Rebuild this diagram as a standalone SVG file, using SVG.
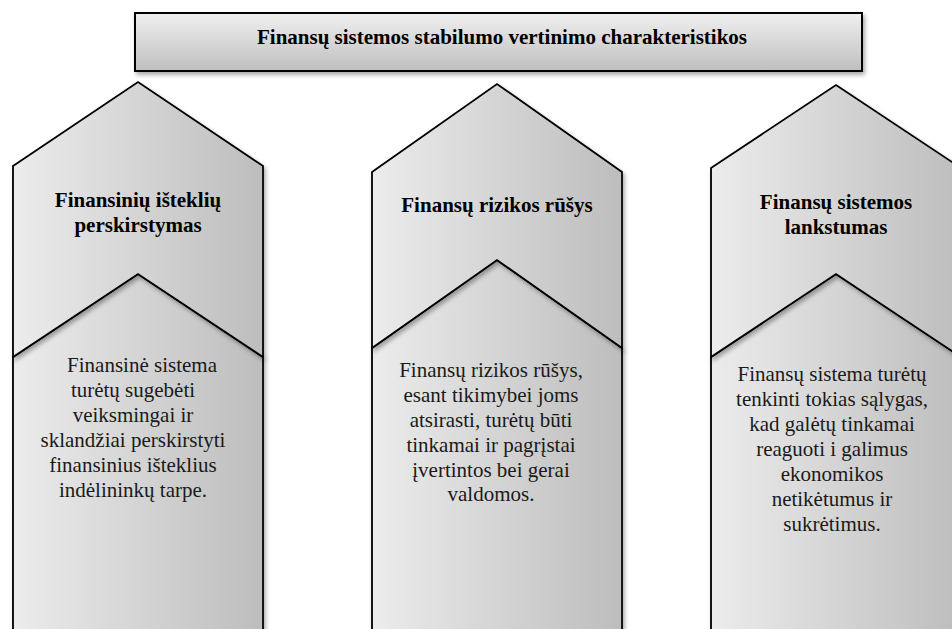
<svg xmlns="http://www.w3.org/2000/svg" width="952" height="629" viewBox="0 0 952 629">
<defs>
<linearGradient id="gH" x1="0" y1="0" x2="1" y2="0"><stop offset="0" stop-color="#ececec"/><stop offset="1" stop-color="#bdbdbd"/></linearGradient>
<linearGradient id="gV" x1="0" y1="0" x2="0" y2="1"><stop offset="0" stop-color="#f0f0f0"/><stop offset="1" stop-color="#bfbfbf"/></linearGradient>
<filter id="sh" x="-10%" y="-10%" width="130%" height="130%"><feDropShadow dx="2" dy="3" stdDeviation="2.2" flood-color="#000" flood-opacity="0.33"/></filter>
</defs>
<style>
.shape{stroke:#000;stroke-width:1.8;stroke-linejoin:miter;fill:url(#gH);filter:url(#sh)}
.box{fill:url(#gV);stroke:#000;stroke-width:2;filter:url(#sh)}
.h{font-family:"Liberation Serif","Times New Roman",serif;font-weight:bold;font-size:21px;fill:#000;text-anchor:middle}
.b{font-family:"Liberation Serif","Times New Roman",serif;font-size:21px;fill:#1a1a1a;text-anchor:middle}
</style>
<g id="title">
<rect class="box" x="135" y="13" width="727" height="58"/>
<text class="h" x="502" y="44">Finansų sistemos stabilumo vertinimo charakteristikos</text>
</g>
<g id="col1-body">
<path class="shape" d="M13,357 L138,274 L263,357 L263,640 L13,640 Z"/>
<text class="b" x="142" y="372">Finansinė sistema</text>
<text class="b" x="133" y="397">turėtų sugebėti</text>
<text class="b" x="133" y="422">veiksmingai ir</text>
<text class="b" x="133" y="447">sklandžiai perskirstyti</text>
<text class="b" x="133" y="472">finansinius išteklius</text>
<text class="b" x="133" y="497">indėlininkų tarpe.</text>
</g>
<g id="col1">
<path class="shape" d="M13,166 L138,82 L263,166 L263,357 L138,274 L13,357 Z"/>
<text class="h" x="138" y="207">Finansinių išteklių</text>
<text class="h" x="138" y="232">perskirstymas</text>
</g>
<g id="col2-body">
<path class="shape" d="M372,348 L497,260 L622,348 L622,640 L372,640 Z"/>
<text class="b" x="491" y="377">Finansų rizikos rūšys,</text>
<text class="b" x="491" y="402">esant tikimybei joms</text>
<text class="b" x="491" y="427">atsirasti, turėtų būti</text>
<text class="b" x="491" y="452">tinkamai ir pagrįstai</text>
<text class="b" x="491" y="477">įvertintos bei gerai</text>
<text class="b" x="491" y="501">valdomos.</text>
</g>
<g id="col2">
<path class="shape" d="M372,172 L497,84 L622,172 L622,348 L497,260 L372,348 Z"/>
<text class="h" x="497" y="212">Finansų rizikos rūšys</text>
</g>
<g id="col3-body">
<path class="shape" d="M711,357 L836,274 L961,357 L961,640 L711,640 Z"/>
<text class="b" x="832" y="381">Finansų sistema turėtų</text>
<text class="b" x="832" y="406">tenkinti tokias sąlygas,</text>
<text class="b" x="832" y="431">kad galėtų tinkamai</text>
<text class="b" x="832" y="456">reaguoti i galimus</text>
<text class="b" x="832" y="481">ekonomikos</text>
<text class="b" x="832" y="506">netikėtumus ir</text>
<text class="b" x="832" y="531">sukrėtimus.</text>
</g>
<g id="col3">
<path class="shape" d="M711,168 L836,85 L961,168 L961,357 L836,274 L711,357 Z"/>
<text class="h" x="836" y="209">Finansų sistemos</text>
<text class="h" x="836" y="234">lankstumas</text>
</g>
<g id="connectors"></g>
</svg>
